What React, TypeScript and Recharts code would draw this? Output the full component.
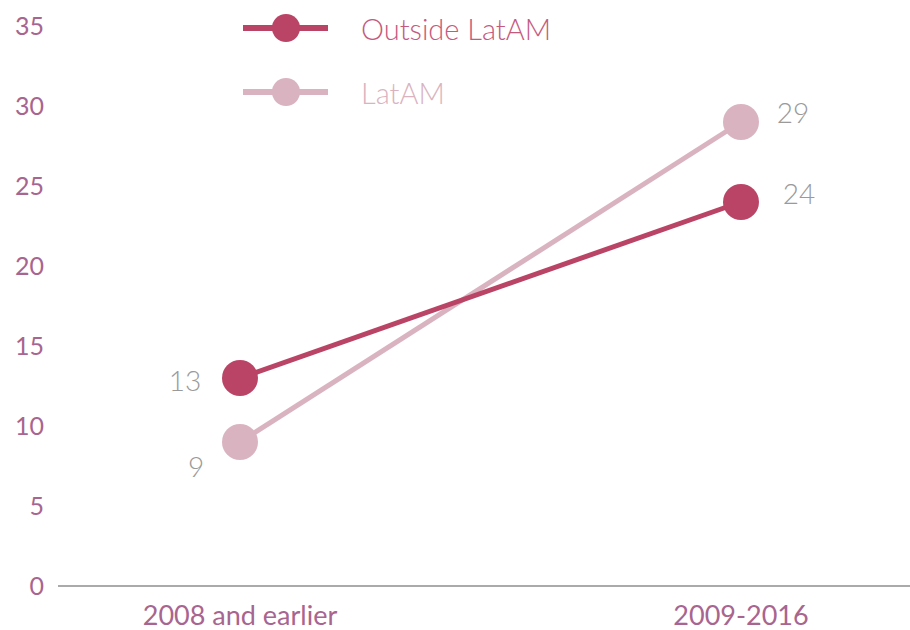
import React from "react";
import { LineChart, Line, XAxis, YAxis, LabelList } from "recharts";

const periods = ["2008 and earlier", "2009-2016"];
const outsideLatam = [13, 24];
const latam = [9, 29];
const yTicks = [0, 5, 10, 15, 20, 25, 30, 35];

const DARK = "#ba4466";
const LIGHT = "#dab3c0";
const TICK = "#a8658f";
const FONT = "Lato, 'Open Sans', sans-serif";

const data = periods.map((p, i) => ({
  period: p,
  outside: outsideLatam[i],
  latam: latam[i],
}));

// label offsets relative to the dot, per point index
const outsideOffsets = [
  { dx: -55, dy: 2 },
  { dx: 58, dy: -9 },
];
const latamOffsets = [
  { dx: -44, dy: 24 },
  { dx: 52, dy: -10 },
];

const makeLabel = (offsets: { dx: number; dy: number }[]) => (props: any) => {
  const { x, y, value, index } = props;
  const o = offsets[index] || { dx: 0, dy: 0 };
  return (
    <text
      x={x + o.dx}
      y={y + o.dy}
      textAnchor="middle"
      dominantBaseline="central"
      fill="#9a9a9a"
      fontSize={28}
      fontWeight={300}
      fontFamily={FONT}
    >
      {value}
    </text>
  );
};

const legendItems = [
  { label: "Outside LatAM", color: DARK, text: "#c45a7e" },
  { label: "LatAM", color: LIGHT, text: LIGHT },
];

const ChartLegend = () => (
  <div style={{ position: "absolute", left: 241, top: -4 }}>
    {legendItems.map((it) => (
      <div key={it.label} style={{ display: "flex", alignItems: "center", height: 64 }}>
        <svg width={90} height={36}>
          <line x1={2} y1={18} x2={87} y2={18} stroke={it.color} strokeWidth={6} />
          <circle cx={45} cy={18} r={14} fill={it.color} />
        </svg>
        <span
          style={{
            marginLeft: 30,
            color: it.text,
            fontSize: 29,
            fontWeight: 300,
            fontFamily: FONT,
            whiteSpace: "nowrap",
          }}
        >
          {it.label}
        </span>
      </div>
    ))}
  </div>
);

export default function App() {
  return (
    <div style={{ position: "absolute", left: 0, top: 0, width: 910, height: 630, background: "#fff" }}>
      <LineChart
        width={910}
        height={630}
        data={data}
        margin={{ top: 26, right: 0, left: 0, bottom: 4 }}
      >
        <XAxis
          dataKey="period"
          height={40}
          interval={0}
          padding={{ left: 182, right: 169 }}
          axisLine={{ stroke: "#aaaaaa", strokeWidth: 2 }}
          tickLine={false}
          tickSize={0}
          tickMargin={20}
          tick={{ fill: TICK, fontSize: 27, fontFamily: FONT }}
        />
        <YAxis
          width={58}
          domain={[0, 35]}
          ticks={yTicks}
          axisLine={false}
          tickLine={false}
          tickSize={0}
          tickMargin={14}
          tick={{ fill: TICK, fontSize: 25, fontFamily: FONT }}
        />
        <Line
          dataKey="latam"
          stroke={LIGHT}
          strokeWidth={5}
          dot={{ r: 18, fill: LIGHT, stroke: "none" }}
          activeDot={false}
          isAnimationActive={false}
        >
          <LabelList dataKey="latam" content={makeLabel(latamOffsets)} />
        </Line>
        <Line
          dataKey="outside"
          stroke={DARK}
          strokeWidth={5}
          dot={{ r: 18, fill: DARK, stroke: "none" }}
          activeDot={false}
          isAnimationActive={false}
        >
          <LabelList dataKey="outside" content={makeLabel(outsideOffsets)} />
        </Line>
      </LineChart>
      <ChartLegend />
    </div>
  );
}
